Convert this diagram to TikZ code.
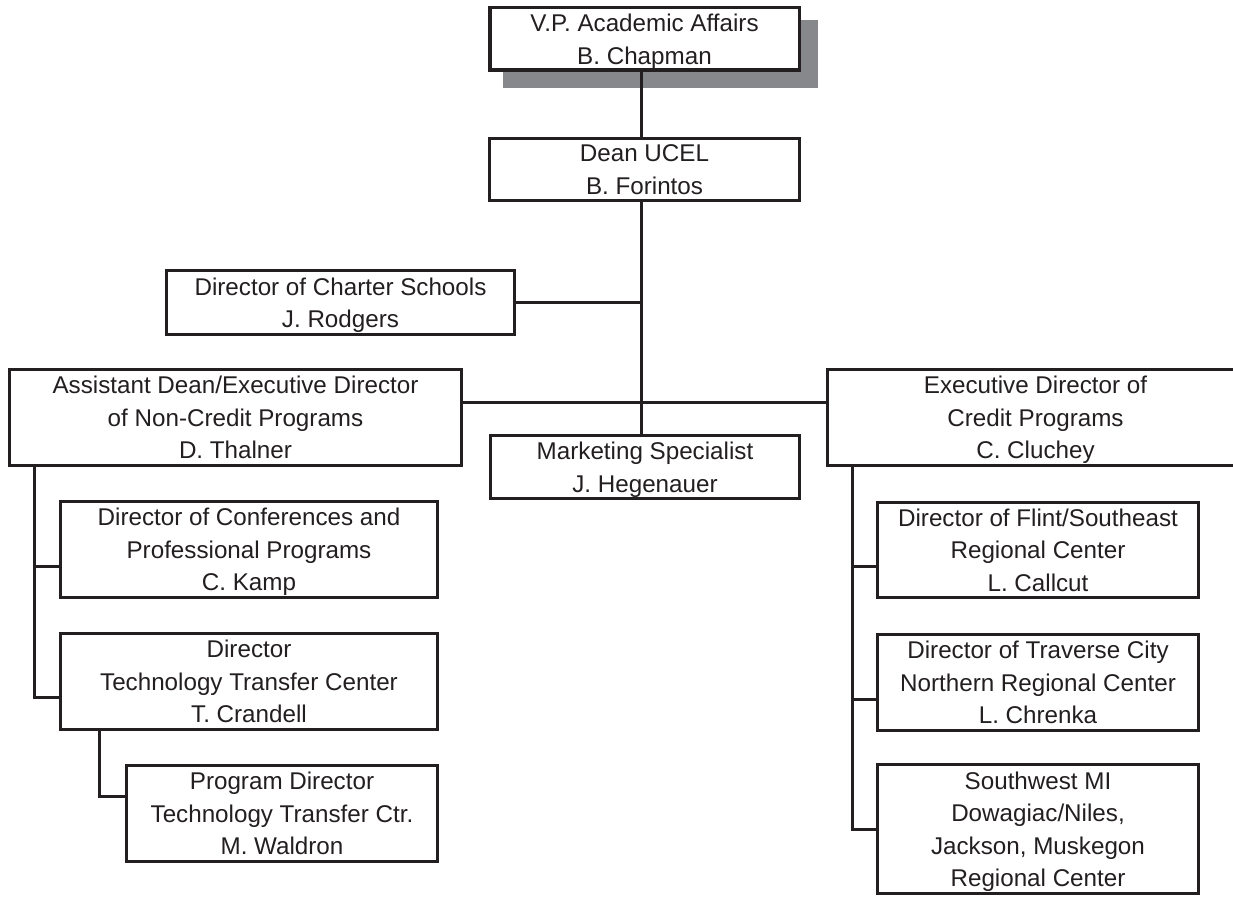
\documentclass[tikz,border=0pt]{standalone}
\usepackage{fontspec}
\setmainfont{Liberation Sans}
\usetikzlibrary{calc}
\definecolor{ink}{HTML}{231F20}
\definecolor{shadowgray}{HTML}{87888C}
\tikzset{
  orgbox/.style={draw=ink, line width=3pt, fill=white, align=center, inner sep=0pt,
    text=ink, font=\fontsize{24.2}{32.5}\selectfont},
  conn/.style={draw=ink, line width=3pt}
}
\newcommand\nodepth[1]{\raisebox{0pt}[\height][0pt]{#1}}
\newcommand\mkbox[7][3]{%
  \pgfmathsetmacro\bcx{(#3+#5)/2}\pgfmathsetmacro\bcy{(#4+#6)/2}%
  \pgfmathsetmacro\bw{#5-#3-#1}\pgfmathsetmacro\bh{#6-#4-#1}%
  \node[orgbox, line width=#1pt, minimum width=\bw pt, minimum height=\bh pt] (#2) at (\bcx,\bcy) {#7};}
\begin{document}
\begin{tikzpicture}[x=1pt,y=-1pt]
\useasboundingbox (0,0) rectangle (1233,896);
\clip (0,0) rectangle (1233,896);
% shadow of the top box
\fill[shadowgray] (503,20) rectangle (818,88);
% boxes
\mkbox[3.5]{vp}{488}{6}{801}{72}{V.P. Academic Affairs\\\nodepth{B. Chapman}}
\mkbox{dean}{488}{137}{801}{202}{Dean UCEL\\B. Forintos}
\mkbox{charter}{165}{269}{516}{336}{Director of Charter Schools\\\nodepth{J. Rodgers}}
\mkbox{asst}{8}{368}{463}{467}{Assistant Dean/Executive Director\\of Non-Credit Programs\\D. Thalner}
\mkbox{exec}{826}{368}{1245}{467}{Executive Director of\\Credit Programs\\\nodepth{C. Cluchey}}
\mkbox{mkt}{489}{434}{801}{500}{Marketing Specialist\\\nodepth{J. Hegenauer}}
\mkbox{conf}{59}{500}{439}{599}{Director of Conferences and\\Professional Programs\\\nodepth{C. Kamp}}
\mkbox{tech}{59}{632}{439}{731}{Director\\Technology Transfer Center\\T. Crandell}
\mkbox{wald}{125}{764}{439}{863}{Program Director\\Technology Transfer Ctr.\\M. Waldron}
\mkbox{flint}{876}{501}{1200}{599}{Director of Flint/Southeast\\Regional Center\\L. Callcut}
\mkbox{trav}{876}{633}{1200}{732}{Director of Traverse City\\Northern Regional Center\\L. Chrenka}
\mkbox{sw}{876}{763}{1200}{895}{Southwest MI\\Dowagiac/Niles,\\Jackson, Muskegon\\\nodepth{Regional Center}}
% helper coordinates
\coordinate (tx) at (641,0);
\coordinate (hy) at (0,402);
\coordinate (lx) at (34,0);
\coordinate (rx) at (852,0);
\coordinate (wx) at (99,0);
\coordinate (confc) at ($(conf.north west)!0.67!(conf.south west)$);
\coordinate (techc) at ($(tech.north west)!0.66!(tech.south west)$);
\coordinate (waldc) at ($(wald.north west)!0.33!(wald.south west)$);
\coordinate (flintc) at ($(flint.north west)!0.67!(flint.south west)$);
\coordinate (travc) at ($(trav.north west)!0.67!(trav.south west)$);
% connectors
\draw[conn] (vp.south -| tx) -- (dean.north -| tx);
\draw[conn] (dean.south -| tx) -- (mkt.north -| tx);
\draw[conn] (charter.east) -- ([xshift=1.5pt]charter.east -| tx);
\draw[conn] (asst.east |- hy) -- (exec.west |- hy);
\draw[conn] (asst.south -| lx) |- (techc);
\draw[conn] (lx |- confc) -- (confc);
\draw[conn] (tech.south -| wx) |- (waldc);
\draw[conn] (exec.south -| rx) |- (sw.west);
\draw[conn] (rx |- flintc) -- (flintc);
\draw[conn] (rx |- travc) -- (travc);
\end{tikzpicture}
\end{document}
